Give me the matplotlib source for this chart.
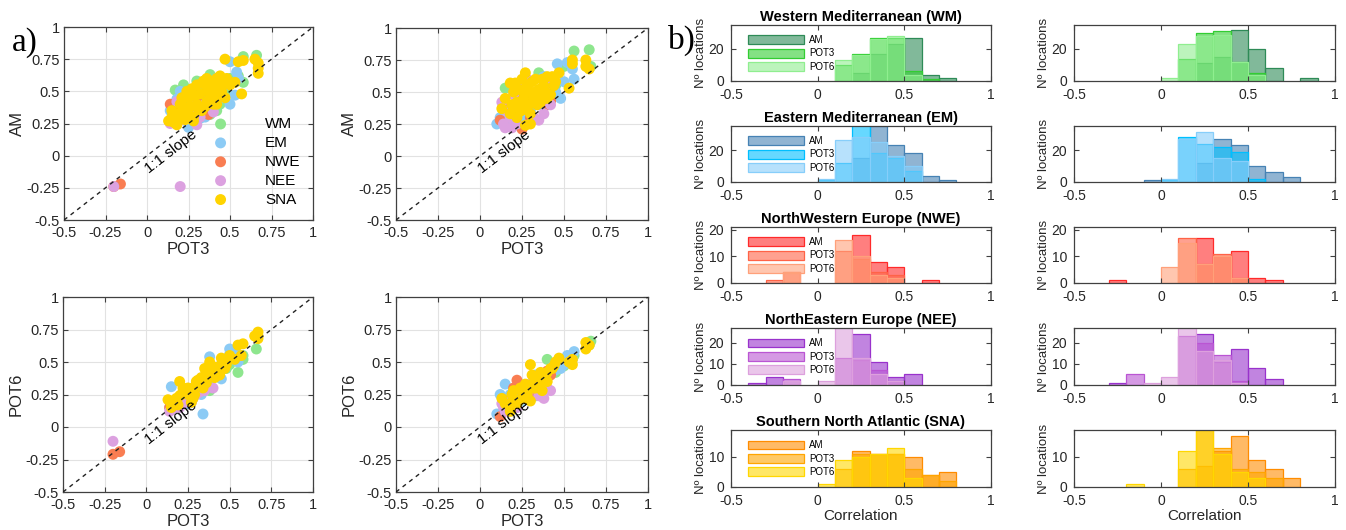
import numpy as np
import matplotlib
matplotlib.use("Agg")
import matplotlib.pyplot as plt
from matplotlib.colors import to_rgba
from matplotlib.patches import Patch

plt.rcParams["font.family"] = ["Liberation Sans", "DejaVu Sans"]

regions = ["WM", "EM", "NWE", "NEE", "SNA"]
scatter_colors = {"WM": "#8ee68e", "EM": "#8ccbf5", "NWE": "#f97d52",
                  "NEE": "#dca1e0", "SNA": "#ffd400"}

# ---- scatter data, left set (AM vs POT3, POT6 vs POT3) ----
pot3_a = {
    "WM": [0.17, 0.22, 0.38, 0.58, 0.66, 0.58, 0.42, 0.38, 0.30, 0.45, 0.25, 0.35, 0.48, 0.40, 0.55, 0.20, 0.28, 0.33, 0.50, 0.44],
    "EM": [0.14, 0.20, 0.18, 0.25, 0.32, 0.36, 0.50, 0.53, 0.54, 0.55, 0.50, 0.38, 0.42, 0.30, 0.45, 0.28, 0.40, 0.47, 0.33, 0.22, 0.26, 0.35, 0.34, 0.15],
    "NWE": [-0.20, -0.16, 0.14, 0.17, 0.37, 0.30, 0.25, 0.40, 0.20],
    "NEE": [-0.20, 0.20, 0.14, 0.18, 0.30, 0.40, 0.35, 0.25, 0.22, 0.28, 0.32, 0.16, 0.27],
    "SNA": [0.13, 0.15, 0.18, 0.20, 0.22, 0.25, 0.27, 0.30, 0.32, 0.35, 0.37, 0.38, 0.40, 0.42, 0.45, 0.47, 0.48, 0.50, 0.53, 0.57,
            0.47, 0.55, 0.58, 0.65, 0.67, 0.67, 0.67, 0.28, 0.25, 0.33, 0.36, 0.40, 0.43, 0.30, 0.23, 0.17, 0.35, 0.45, 0.38, 0.20,
            0.15, 0.19, 0.24, 0.26, 0.29, 0.31, 0.34, 0.39, 0.41, 0.44, 0.36, 0.28, 0.21, 0.16, 0.42],
}
am_a = {
    "WM": [0.51, 0.55, 0.63, 0.77, 0.78, 0.57, 0.35, 0.32, 0.58, 0.55, 0.42, 0.50, 0.48, 0.45, 0.62, 0.40, 0.35, 0.45, 0.60, 0.40],
    "EM": [0.35, 0.50, 0.44, 0.22, 0.29, 0.45, 0.40, 0.47, 0.65, 0.60, 0.73, 0.56, 0.60, 0.50, 0.45, 0.40, 0.38, 0.55, 0.36, 0.30, 0.33, 0.30, 0.42, 0.38],
    "NWE": [-0.24, -0.22, 0.40, 0.36, 0.32, 0.45, 0.30, 0.50, 0.28],
    "NEE": [-0.24, -0.24, 0.25, 0.42, 0.24, 0.34, 0.40, 0.35, 0.28, 0.45, 0.30, 0.30, 0.38],
    "SNA": [0.27, 0.30, 0.24, 0.33, 0.38, 0.45, 0.52, 0.40, 0.48, 0.55, 0.50, 0.58, 0.52, 0.60, 0.55, 0.45, 0.60, 0.55, 0.57, 0.48,
            0.75, 0.73, 0.74, 0.75, 0.72, 0.68, 0.64, 0.30, 0.32, 0.35, 0.42, 0.40, 0.47, 0.55, 0.28, 0.28, 0.38, 0.50, 0.45, 0.40,
            0.35, 0.30, 0.50, 0.38, 0.47, 0.36, 0.58, 0.48, 0.56, 0.62, 0.60, 0.27, 0.45, 0.26, 0.40],
}
pot6_a = {
    "WM": [0.20, 0.25, 0.37, 0.55, 0.60, 0.52, 0.40, 0.28, 0.33, 0.48, 0.26, 0.35, 0.45, 0.38, 0.42, 0.22, 0.30, 0.34, 0.48, 0.43],
    "EM": [0.15, 0.22, 0.20, 0.18, 0.30, 0.40, 0.60, 0.52, 0.56, 0.50, 0.56, 0.54, 0.45, 0.34, 0.37, 0.30, 0.42, 0.47, 0.25, 0.24, 0.22, 0.38, 0.10, 0.31],
    "NWE": [-0.21, -0.19, 0.15, 0.20, 0.38, 0.30, 0.24, 0.40, 0.18],
    "NEE": [-0.11, 0.15, 0.12, 0.16, 0.25, 0.30, 0.28, 0.20, 0.18, 0.22, 0.27, 0.14, 0.19],
    "SNA": [0.21, 0.18, 0.22, 0.35, 0.30, 0.30, 0.19, 0.35, 0.33, 0.45, 0.40, 0.50, 0.42, 0.45, 0.53, 0.50, 0.48, 0.55, 0.52, 0.55,
            0.45, 0.63, 0.64, 0.70, 0.73, 0.70, 0.68, 0.30, 0.25, 0.38, 0.43, 0.46, 0.40, 0.32, 0.28, 0.20, 0.36, 0.47, 0.40, 0.24,
            0.15, 0.17, 0.28, 0.27, 0.25, 0.36, 0.30, 0.42, 0.38, 0.40, 0.34, 0.22, 0.25, 0.19, 0.46],
}

# ---- scatter data, right set ----
pot3_b = {
    "WM": [0.56, 0.65, 0.15, 0.25, 0.35, 0.30, 0.50, 0.40, 0.20, 0.45, 0.28, 0.66, 0.33],
    "EM": [0.46, 0.52, 0.55, 0.56, 0.48, 0.40, 0.35, 0.30, 0.43, 0.38, 0.25, 0.18, 0.50, 0.12, 0.10, 0.22, 0.28, 0.33, 0.45, 0.15],
    "NWE": [0.15, 0.25, 0.40, 0.20, 0.30, 0.42, 0.12, 0.22],
    "NEE": [0.13, 0.14, 0.15, 0.18, 0.20, 0.22, 0.25, 0.28, 0.32, 0.35, 0.38, 0.30, 0.16, 0.22, 0.40, 0.27, 0.19, 0.42],
    "SNA": [0.13, 0.18, 0.20, 0.22, 0.24, 0.25, 0.27, 0.28, 0.30, 0.32, 0.34, 0.35, 0.37, 0.38, 0.40, 0.42, 0.44, 0.47,
            0.53, 0.55, 0.55, 0.63, 0.63, 0.65, 0.27, 0.22, 0.20, 0.26, 0.30, 0.33, 0.40, 0.23, 0.29, 0.45, 0.18, 0.36,
            0.15, 0.19, 0.21, 0.25, 0.28, 0.31, 0.33, 0.36, 0.39, 0.43, 0.26, 0.30],
}
am_b = {
    "WM": [0.82, 0.83, 0.53, 0.58, 0.65, 0.45, 0.70, 0.60, 0.40, 0.55, 0.50, 0.70, 0.42],
    "EM": [0.72, 0.73, 0.68, 0.60, 0.45, 0.52, 0.40, 0.35, 0.60, 0.62, 0.30, 0.28, 0.58, 0.30, 0.25, 0.32, 0.38, 0.45, 0.50, 0.35],
    "NWE": [0.40, 0.21, 0.40, 0.35, 0.30, 0.43, 0.28, 0.45],
    "NEE": [0.42, 0.25, 0.22, 0.30, 0.48, 0.52, 0.55, 0.60, 0.30, 0.28, 0.33, 0.45, 0.35, 0.25, 0.55, 0.38, 0.22, 0.40],
    "SNA": [0.37, 0.57, 0.50, 0.42, 0.35, 0.60, 0.65, 0.55, 0.50, 0.45, 0.40, 0.52, 0.60, 0.55, 0.62, 0.48, 0.55, 0.65,
            0.53, 0.75, 0.72, 0.75, 0.70, 0.68, 0.24, 0.30, 0.38, 0.45, 0.33, 0.60, 0.45, 0.52, 0.40, 0.58, 0.33, 0.48,
            0.45, 0.40, 0.57, 0.40, 0.36, 0.58, 0.50, 0.42, 0.50, 0.62, 0.50, 0.25],
}
pot6_b = {
    "WM": [0.55, 0.63, 0.18, 0.24, 0.30, 0.28, 0.47, 0.52, 0.20, 0.42, 0.26, 0.66, 0.24],
    "EM": [0.50, 0.55, 0.52, 0.58, 0.45, 0.40, 0.30, 0.32, 0.46, 0.36, 0.20, 0.25, 0.48, 0.25, 0.10, 0.20, 0.28, 0.40, 0.44, 0.33],
    "NWE": [0.20, 0.22, 0.43, 0.30, 0.27, 0.40, 0.08, 0.36],
    "NEE": [0.18, 0.15, 0.12, 0.20, 0.22, 0.15, 0.28, 0.25, 0.30, 0.24, 0.22, 0.33, 0.18, 0.20, 0.30, 0.26, 0.14, 0.28],
    "SNA": [0.22, 0.12, 0.28, 0.20, 0.30, 0.30, 0.33, 0.25, 0.48, 0.30, 0.35, 0.38, 0.28, 0.40, 0.42, 0.45, 0.47, 0.53,
            0.50, 0.48, 0.52, 0.65, 0.60, 0.63, 0.22, 0.18, 0.22, 0.25, 0.32, 0.36, 0.35, 0.20, 0.30, 0.50, 0.18, 0.42,
            0.18, 0.25, 0.20, 0.28, 0.22, 0.40, 0.30, 0.35, 0.40, 0.45, 0.24, 0.20],
}

# ---- histogram data: counts per 0.1 bin from -0.5 to 1.0 ----
bin_edges = np.round(np.arange(-0.5, 1.0001, 0.1), 2)
series = ["AM", "POT3", "POT6"]
titles = ["Western Mediterranean (WM)", "Eastern Mediterranean (EM)",
          "NorthWestern Europe (NWE)", "NorthEastern Europe (NEE)",
          "Southern North Atlantic (SNA)"]
hist_colors = {
    "WM": ["#2e8b57", "#32cd32", "#90ee90"],
    "EM": ["#4682b4", "#00bfff", "#87cefa"],
    "NWE": ["#ff2a2a", "#ff6347", "#ffa07a"],
    "NEE": ["#9932cc", "#ba55d3", "#dda0dd"],
    "SNA": ["#ff8c00", "#ffa500", "#ffd700"],
}
hist_left = {
    "WM": [[0, 0, 0, 0, 0, 0, 0, 5, 17, 23, 27, 4, 2, 0, 0],
           [0, 0, 0, 0, 0, 0, 10, 17, 27, 27, 6, 1, 0, 0, 0],
           [0, 0, 0, 0, 0, 0, 13, 16, 26, 28, 4, 0, 0, 0, 0]],
    "EM": [[0, 0, 0, 0, 0, 0, 0, 15, 35, 23, 18, 4, 1, 0, 0],
           [0, 0, 0, 0, 0, 1, 12, 36, 18, 15, 7, 0, 0, 0, 0],
           [0, 0, 0, 0, 0, 2, 26, 28, 25, 16, 10, 0, 0, 0, 0]],
    "NWE": [[0, 0, 0, 0, 0, 0, 0, 18, 8, 6, 0, 1, 0, 0, 0],
            [0, 0, 1, 4, 0, 0, 12, 9, 4, 3, 0, 0, 0, 0, 0],
            [0, 0, 0, 4, 0, 0, 16, 10, 3, 2, 0, 0, 0, 0, 0]],
    "NEE": [[0, 1, 4, 0, 0, 0, 0, 24, 11, 4, 5, 0, 0, 0, 0],
            [0, 0, 0, 3, 0, 0, 13, 12, 7, 2, 0, 0, 0, 0, 0],
            [0, 0, 0, 2, 0, 2, 28, 13, 5, 2, 0, 0, 0, 0, 0]],
    "SNA": [[0, 0, 0, 0, 0, 0, 0, 12, 11, 11, 10, 4, 5, 0, 0],
            [0, 0, 0, 0, 0, 0, 6, 11, 11, 11, 6, 4, 2, 0, 0],
            [0, 0, 0, 0, 0, 1, 9, 10, 11, 13, 3, 0, 0, 0, 0]],
}
hist_right = {
    "WM": [[0, 0, 0, 0, 0, 0, 0, 11, 15, 32, 20, 8, 0, 2, 0],
           [0, 0, 0, 0, 0, 0, 14, 30, 31, 12, 5, 0, 0, 0, 0],
           [0, 0, 0, 0, 0, 2, 23, 28, 29, 12, 4, 0, 0, 0, 0]],
    "EM": [[0, 0, 0, 0, 1, 0, 0, 12, 27, 23, 10, 6, 3, 0, 0],
           [0, 0, 0, 0, 0, 1, 28, 24, 22, 19, 2, 0, 0, 0, 0],
           [0, 0, 0, 0, 0, 2, 27, 31, 15, 13, 0, 0, 0, 0, 0]],
    "NWE": [[0, 0, 1, 0, 0, 0, 0, 17, 10, 12, 2, 1, 0, 0, 0],
            [0, 0, 0, 0, 0, 0, 17, 7, 11, 2, 0, 0, 0, 0, 0],
            [0, 0, 0, 0, 0, 6, 15, 7, 10, 2, 0, 0, 0, 0, 0]],
    "NEE": [[0, 0, 1, 0, 0, 0, 0, 24, 11, 17, 8, 3, 0, 0, 0],
            [0, 0, 0, 5, 0, 0, 23, 20, 14, 2, 0, 0, 0, 0, 0],
            [0, 0, 0, 0, 1, 4, 28, 16, 12, 1, 0, 0, 0, 0, 0]],
    "SNA": [[0, 0, 0, 0, 0, 0, 0, 7, 12, 17, 9, 6, 3, 0, 0],
            [0, 0, 0, 0, 0, 0, 6, 19, 13, 6, 5, 3, 0, 0, 0],
            [0, 0, 0, 1, 0, 0, 12, 19, 11, 5, 3, 0, 0, 0, 0]],
}
hist_ylims = {"WM": 35, "EM": 35, "NWE": 21, "NEE": 27, "SNA": 19}
hist_yticks = {"WM": [0, 20], "EM": [0, 20], "NWE": [0, 10, 20],
               "NEE": [0, 10, 20], "SNA": [0, 10]}

W, H = 1346, 530
AX_COLOR = "#404040"


def px_axes(fig, left, top, right, bottom):
    return fig.add_axes([left / W, 1 - bottom / H, (right - left) / W, (bottom - top) / H])


def style_axes(ax, fs, xpad, ypad):
    for sp in ax.spines.values():
        sp.set_color(AX_COLOR)
        sp.set_linewidth(0.9)
    ax.tick_params(direction="in", top=True, right=True, length=3.5, width=0.8,
                   color=AX_COLOR, labelcolor="#262626", labelsize=fs)
    ax.tick_params(axis="x", pad=xpad)
    ax.tick_params(axis="y", pad=ypad)


def fmt(v):
    return f"{v:g}"


def scatter_panel(ax, xs, ys, ylabel, legend=False):
    for r in regions:
        ax.scatter(xs[r], ys[r], s=62, color=scatter_colors[r], label=r,
                   edgecolors="none", zorder=3)
    ax.plot([-0.5, 1], [-0.5, 1], ls=(0, (3, 3)), color="#222222", lw=1, zorder=4)
    ax.text(0.145, 0.035, "1:1 slope", rotation=45, transform_rotates_text=True,
            rotation_mode="anchor", ha="center", va="center", fontsize=11, zorder=5)
    ticks = [-0.5, -0.25, 0, 0.25, 0.5, 0.75, 1]
    ax.set_xlim(-0.5, 1)
    ax.set_ylim(-0.5, 1)
    ax.set_xticks(ticks)
    ax.set_yticks(ticks)
    ax.set_xticklabels([fmt(t) for t in ticks])
    ax.set_yticklabels([fmt(t) for t in ticks])
    ax.grid(True, color="#e2e2e2", lw=0.8, zorder=0)
    ax.set_axisbelow(True)
    style_axes(ax, 10.5, 4.5, 3)
    ax.set_xlabel("POT3", fontsize=12, color="#262626", labelpad=1)
    ax.set_ylabel(ylabel, fontsize=12, color="#262626", labelpad=1)
    if legend:
        ax.legend(loc="lower right", bbox_to_anchor=(0.98, 0.03), frameon=False,
                  fontsize=11, handletextpad=1.9, labelspacing=0.32,
                  borderpad=0, markerscale=1.0)


def hist_panel(ax, r, counts, title=None, xlabel=False):
    centers = (bin_edges[:-1] + bin_edges[1:]) / 2
    handles = []
    for name, c, col in zip(series, counts, hist_colors[r]):
        c = np.array(c)
        nz = c > 0
        ax.bar(centers[nz], c[nz], width=0.1, facecolor=to_rgba(col, 0.6),
               edgecolor=col, linewidth=0.9)
        handles.append(Patch(facecolor=to_rgba(col, 0.6), edgecolor=col,
                             linewidth=0.9, label=name))
    ax.set_xlim(-0.5, 1)
    ax.set_ylim(0, hist_ylims[r])
    ax.set_xticks([-0.5, 0, 0.5, 1])
    ax.set_xticklabels(["-0.5", "0", "0.5", "1"])
    ax.set_yticks(hist_yticks[r])
    style_axes(ax, 10, 5, 5)
    ax.set_ylabel("N\u00ba locations", fontsize=9.5, color="#262626", labelpad=1)
    if title:
        ax.set_title(title, fontsize=10.5, fontweight="bold", pad=3)
        ax.legend(handles=handles, loc="upper left", bbox_to_anchor=(0.065, 0.82),
                  frameon=False, fontsize=7, handlelength=5.8, handleheight=1.0,
                  labelspacing=0.35, borderpad=0, borderaxespad=0,
                  handletextpad=0.5)
    if xlabel:
        ax.set_xlabel("Correlation", fontsize=11, color="#262626", labelpad=1)


fig = plt.figure(figsize=(W / 100, H / 100), dpi=100)

ax1 = px_axes(fig, 64, 27, 313, 220)
scatter_panel(ax1, pot3_a, am_a, "AM", legend=True)
ax2 = px_axes(fig, 396, 28, 648, 220)
scatter_panel(ax2, pot3_b, am_b, "AM")
ax3 = px_axes(fig, 63, 297, 313, 492)
scatter_panel(ax3, pot3_a, pot6_a, "POT6")
ax4 = px_axes(fig, 396, 297, 648, 492)
scatter_panel(ax4, pot3_b, pot6_b, "POT6")

rows = [(25, 81), (126, 182), (227, 283), (328, 385), (430, 487)]
for i, r in enumerate(regions):
    top, bottom = rows[i]
    last = i == len(regions) - 1
    axl = px_axes(fig, 731, top, 991, bottom)
    hist_panel(axl, r, hist_left[r], title=titles[i], xlabel=last)
    axr = px_axes(fig, 1074, top, 1335, bottom)
    hist_panel(axr, r, hist_right[r], xlabel=last)

fig.text(12 / W, 1 - 43 / H, "a)", fontsize=24, family="Liberation Serif", va="center")
fig.text(668 / W, 1 - 40 / H, "b)", fontsize=24, family="Liberation Serif", va="center")

fig.savefig("out.png", dpi=100)
